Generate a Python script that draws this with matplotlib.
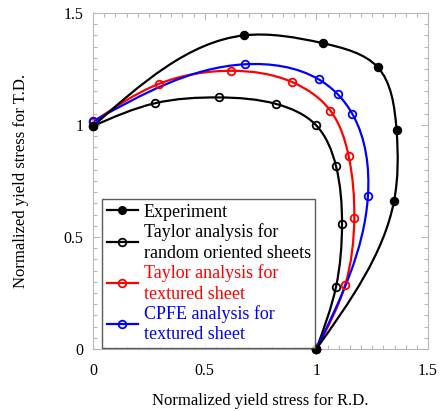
import numpy as np
import matplotlib
matplotlib.use('Agg')
import matplotlib.pyplot as plt
from matplotlib.path import Path
from matplotlib.patches import PathPatch
from matplotlib.lines import Line2D
from matplotlib.ticker import MultipleLocator, FuncFormatter

# data (normalized yield stress, R.D. vs T.D.)
exp_x = [0.0, 0.675, 1.03, 1.274, 1.359, 1.348, 1.0]
exp_y = [0.995, 1.40, 1.365, 1.259, 0.979, 0.661, 0.0]

rand_x = [0.0, 0.277, 0.564, 0.82, 0.997, 1.088, 1.115, 1.088, 1.0]
rand_y = [0.995, 1.097, 1.123, 1.094, 1.001, 0.817, 0.559, 0.277, 0.0]

tex_x = [0.0, 0.296, 0.619, 0.891, 1.063, 1.145, 1.170, 1.129, 1.0]
tex_y = [1.013, 1.184, 1.242, 1.192, 1.064, 0.860, 0.586, 0.286, 0.0]

cpfe_x = [0.0, 0.680, 1.010, 1.095, 1.161, 1.231, 1.0]
cpfe_y = [1.016, 1.271, 1.204, 1.138, 1.050, 0.682, 0.0]

labels = ['Experiment',
          'Taylor analysis for\nrandom oriented sheets',
          'Taylor analysis for\ntextured sheet',
          'CPFE analysis for\ntextured sheet']

plt.rcParams['font.family'] = ['Liberation Serif', 'DejaVu Serif']


def smooth_path(xs, ys):
    # natural cubic spline (chord length) written as bezier segments
    p = np.column_stack([xs, ys]).astype(float)
    n = len(p)
    h = np.hypot(*np.diff(p, axis=0).T)
    s = np.diff(p, axis=0) / h[:, None]
    A = np.zeros((n, n))
    r = np.zeros((n, 2))
    A[0, 0], A[0, 1], r[0] = 2, 1, 3 * s[0]
    A[-1, -2], A[-1, -1], r[-1] = 1, 2, 3 * s[-1]
    for i in range(1, n - 1):
        A[i, i - 1] = h[i]
        A[i, i] = 2 * (h[i - 1] + h[i])
        A[i, i + 1] = h[i - 1]
        r[i] = 3 * (h[i] * s[i - 1] + h[i - 1] * s[i])
    d = np.linalg.solve(A, r)
    verts = [p[0]]
    codes = [Path.MOVETO]
    for i in range(n - 1):
        verts += [p[i] + h[i] * d[i] / 3, p[i + 1] - h[i] * d[i + 1] / 3, p[i + 1]]
        codes += [Path.CURVE4] * 3
    return Path(verts, codes)


fig = plt.figure(figsize=(4.4, 4.11), dpi=100)
ax = fig.add_axes([93 / 440, 1 - 349 / 411, 335 / 440, 336 / 411])

series = [
    (rand_x, rand_y, 'black', 'none'),
    (tex_x, tex_y, 'red', 'none'),
    (cpfe_x, cpfe_y, 'blue', 'none'),
    (exp_x, exp_y, 'black', 'black'),
]
for xs, ys, col, fc in series:
    ax.add_patch(PathPatch(smooth_path(xs, ys), facecolor='none', edgecolor=col,
                           lw=1.6, clip_on=False))
    ax.plot(xs, ys, 'o', color=col, mfc=fc, mec=col, ms=5.5, mew=1.3,
            clip_on=False, zorder=3)

ax.set_xlim(0, 1.5)
ax.set_ylim(0, 1.5)
for s in ax.spines.values():
    s.set_color('#b8b8b8')
    s.set_linewidth(0.8)
ax.xaxis.set_major_locator(MultipleLocator(0.5))
ax.yaxis.set_major_locator(MultipleLocator(0.5))
ax.xaxis.set_minor_locator(MultipleLocator(0.05))
ax.yaxis.set_minor_locator(MultipleLocator(0.05))
fmt = FuncFormatter(lambda v, p: ('%g' % v))
ax.xaxis.set_major_formatter(fmt)
ax.yaxis.set_major_formatter(fmt)
ax.tick_params(which='both', direction='in', top=True, right=True,
               color='#b8b8b8', labelsize=11.5, width=0.8)
ax.tick_params(which='major', length=5)
ax.tick_params(which='minor', length=3)
ax.tick_params(axis='x', pad=10)
ax.tick_params(axis='y', pad=7)

ax.set_xlabel('Normalized yield stress for R.D.', fontsize=12, labelpad=10)
ax.set_ylabel('Normalized yield stress for T.D.', fontsize=12, labelpad=25)

handles = [
    Line2D([], [], color='black', lw=1.6, marker='o', ms=5.5, mfc='black'),
    Line2D([], [], color='black', lw=1.6, marker='o', ms=5.5, mfc='none', mew=1.3),
    Line2D([], [], color='red', lw=1.6, marker='o', ms=5.5, mfc='none', mew=1.3),
    Line2D([], [], color='blue', lw=1.6, marker='o', ms=5.5, mfc='none', mew=1.3),
]
leg = ax.legend(handles, labels, loc='lower left', bbox_to_anchor=(0.027, 0.003),
                borderaxespad=0, fontsize=13, frameon=True, fancybox=False,
                handlelength=1.75, handletextpad=0.3, labelspacing=0.12,
                borderpad=0.25)
leg.get_frame().set_edgecolor('#333333')
leg.get_frame().set_linewidth(1.0)
for t, c in zip(leg.get_texts(), ['black', 'black', 'red', 'blue']):
    t.set_color(c)
    t.set_linespacing(1.3)

fig.savefig('out.png', dpi=100)
